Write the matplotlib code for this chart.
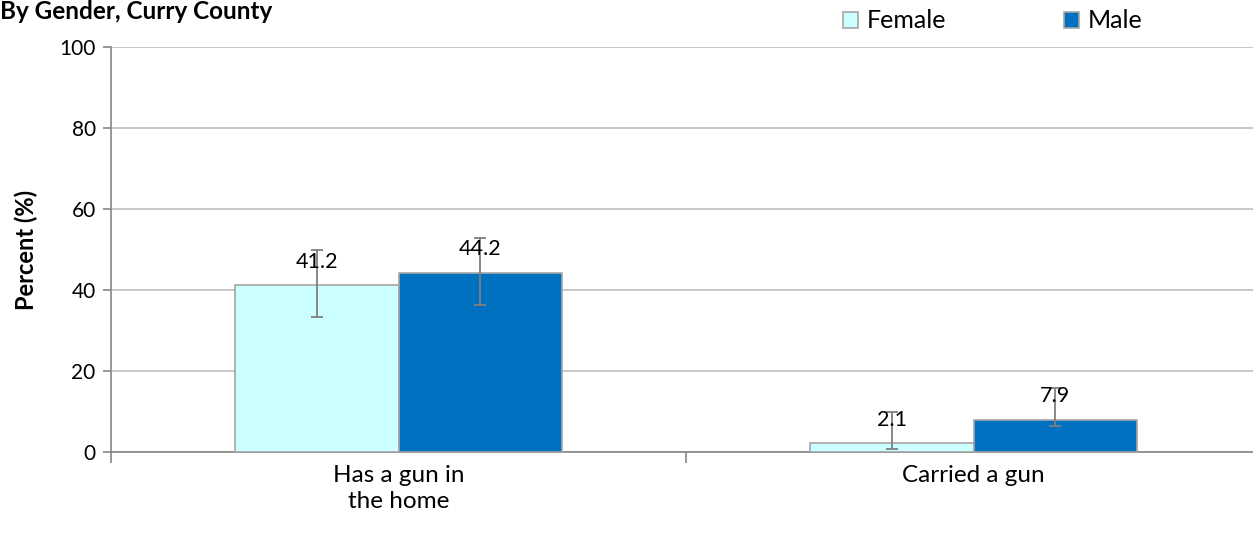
import matplotlib
matplotlib.use("Agg")
import matplotlib.pyplot as plt
import numpy as np

categories = ["Has a gun in\nthe home", "Carried a gun"]
series_names = ["Female", "Male"]
female = [41.2, 2.1]
male = [44.2, 7.9]
female_lo = [33.3, 0.7]
female_hi = [49.9, 9.9]
male_lo = [36.3, 6.5]
male_hi = [52.8, 15.9]
yticks = [0, 20, 40, 60, 80, 100]

plt.rcParams['font.family'] = ['Lato', 'DejaVu Sans']

W, H = 1253, 533
fig = plt.figure(figsize=(W / 100, H / 100), dpi=100)
ax = fig.add_axes([111 / W, 81 / H, (1261 - 111) / W, (486 - 81) / H])

x = np.arange(len(categories))
bw = 0.285
cols = ["#CCFFFF", "#0070C0"]
edge = "#A6A6A6"
grid = "#BFBFBF"

for vals, lo, hi, off, c, name in [
    (female, female_lo, female_hi, -bw / 2, cols[0], series_names[0]),
    (male, male_lo, male_hi, bw / 2, cols[1], series_names[1]),
]:
    vals = np.array(vals)
    err = np.array([vals - np.array(lo), np.array(hi) - vals])
    ax.bar(x + off, vals, bw, color=c, edgecolor=edge, linewidth=1.2, label=name, zorder=3)
    ax.errorbar(x + off, vals, yerr=err, fmt="none", ecolor="#7F7F7F", elinewidth=1.3,
                capsize=4, capthick=1.3, zorder=4)
    for xi, v in zip(x + off, vals):
        ax.annotate(f"{v:.1f}", (xi, v), xytext=(0, 17), textcoords="offset points",
                    ha="center", va="center", fontsize=15.5, color="#000000", zorder=5)

ax.set_xlim(-0.5, 1.5)
ax.set_ylim(0, 100)
ax.set_yticks(yticks)
ax.set_yticklabels([str(t) for t in yticks], fontsize=15)
ax.yaxis.grid(True, color=grid, linewidth=1.2, zorder=0)
ax.set_axisbelow(True)

ax.set_xticks([-0.5, 0.5, 1.5])
ax.set_xticklabels([])
ax.set_xticks(x, minor=True)
ax.set_xticklabels(categories, minor=True, fontsize=17.5, linespacing=1.3)
ax.tick_params(axis="x", which="minor", length=0, pad=9)
ax.tick_params(axis="x", which="major", length=8, color="#868686", width=1.2)
ax.tick_params(axis="y", length=6, color="#868686", width=1.2, pad=5)

for s in ["top", "right"]:
    ax.spines[s].set_visible(False)
for s in ["left", "bottom"]:
    ax.spines[s].set_color("#868686")
    ax.spines[s].set_linewidth(1.2)

ax.set_ylabel("Percent (%)", fontsize=17, fontweight="bold")
ax.yaxis.set_label_coords(-(111 - 38) / (1261 - 111), 0.5)

fig.text(0, 1 - 19 / H, "By Gender, Curry County", fontsize=17.5, fontweight="bold",
         ha="left", va="baseline")

leg = fig.legend(loc="center left", bbox_to_anchor=(843 / W, 1 - 21 / H), ncol=2,
                 frameon=False, fontsize=18, handlelength=0.6, handleheight=0.6,
                 columnspacing=4.7, handletextpad=0.35, borderpad=0, borderaxespad=0)

fig.savefig("out.png", dpi=100)
